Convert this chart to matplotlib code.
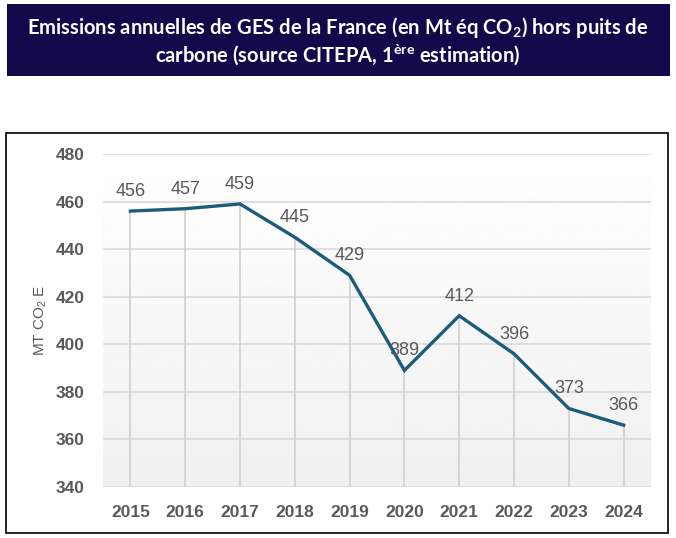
import matplotlib
matplotlib.use('Agg')
import matplotlib.pyplot as plt
import numpy as np
from matplotlib.patches import Rectangle

years = ['2015', '2016', '2017', '2018', '2019', '2020', '2021', '2022', '2023', '2024']
emissions = [456, 457, 459, 445, 429, 389, 412, 396, 373, 366]

grey = '#595959'
line_color = '#1d5b7c'

fig = plt.figure(figsize=(6.76, 5.38), dpi=100)

# background layer: title banner + chart frame
bg = fig.add_axes([0, 0, 1, 1], zorder=0)
bg.set_xlim(0, 676)
bg.set_ylim(538, 0)
bg.axis('off')
bg.add_patch(Rectangle((7, 4), 663, 72, facecolor='#13084a', edgecolor='none'))
bg.add_patch(Rectangle((6, 133), 662, 400, facecolor='white',
                       edgecolor='black', linewidth=1.2))
bg.text(338, 28, "Emissions annuelles de GES de la France (en Mt éq CO$_\\mathregular{2}$) hors puits de",
        ha='center', va='center', color='white', fontsize=14.5, fontweight='bold', family='Lato')
bg.text(338, 55, "carbone (source CITEPA, 1$^\\mathregular{ère}$ estimation)",
        ha='center', va='center', color='white', fontsize=14.5, fontweight='bold', family='Lato')

ax = fig.add_axes([103 / 676, 1 - 487 / 538, 548 / 676, 333 / 538], zorder=1)
ax.set_facecolor('none')

x = np.arange(len(years))
ax.set_xlim(-0.5, len(years) - 0.5)
ax.set_ylim(340, 480)

# gradient background
grad = np.linspace(1.0, 0.94, 256).reshape(-1, 1)
ax.imshow(grad, cmap='gray', vmin=0, vmax=1, extent=[0, 1, 0, 1],
          transform=ax.transAxes, aspect='auto', zorder=0)

ax.set_yticks(np.arange(340, 481, 20))
ax.grid(axis='y', color='#d9d9d9', linewidth=1.2, zorder=1)
ax.set_axisbelow(True)

# drop lines
ax.vlines(x, 340, emissions, color='#d0d0d0', linewidth=1.2, zorder=2)

ax.plot(x, emissions, color=line_color, linewidth=2.4, zorder=3,
        solid_joinstyle='miter')

for xi, v in zip(x, emissions):
    ax.annotate(str(v), xy=(xi, v), xytext=(0, 8), textcoords='offset points',
                ha='center', va='bottom', fontsize=13, color=grey,
                family='Liberation Sans', zorder=4)

ax.set_xticks(x)
ax.set_xticklabels(years)
for lab in ax.get_xticklabels() + ax.get_yticklabels():
    lab.set_family('Liberation Sans')
    lab.set_fontweight('bold')
    lab.set_fontsize(12.5)
    lab.set_color(grey)
ax.tick_params(length=0)
ax.tick_params(axis='x', pad=13)
ax.tick_params(axis='y', pad=13)
for s in ax.spines.values():
    s.set_visible(False)

ax.set_ylabel('MT CO$_\\mathregular{2}$ E', color=grey, fontsize=11,
              family='Liberation Sans', labelpad=5)

fig.savefig('out.png', dpi=100)
